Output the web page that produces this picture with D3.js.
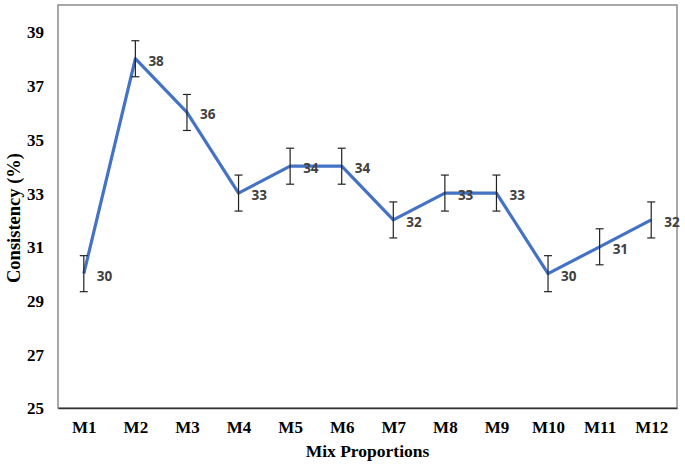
<!DOCTYPE html>
<html>
<head>
<meta charset="utf-8">
<script src="https://cdn.jsdelivr.net/npm/d3@7"></script>
<style>
  body { margin: 0; background: #fff; }
  svg text.serif, svg .tick text { font-family: "Liberation Serif", "DejaVu Serif", "Times New Roman", serif; font-weight: bold; }
  .tick text { font-size: 17px; fill: #000; }
</style>
</head>
<body>
<div id="chart"></div>
<script>
var mixes = ['M1', 'M2', 'M3', 'M4', 'M5', 'M6', 'M7', 'M8', 'M9', 'M10', 'M11', 'M12'];
var consistency = [30, 38, 36, 33, 34, 34, 32, 33, 33, 30, 31, 32];
var errors = [0.67, 0.67, 0.67, 0.67, 0.67, 0.67, 0.67, 0.67, 0.67, 0.67, 0.67, 0.67];
var yTicks = [25, 27, 29, 31, 33, 35, 37, 39];

var width = 685, height = 467;
var margin = { left: 58, right: 8, top: 5, bottom: 59 };

var svg = d3.select('#chart').append('svg')
  .attr('width', width)
  .attr('height', height);

var x = d3.scalePoint()
  .domain(mixes)
  .range([margin.left, width - margin.right])
  .padding(0.5);

var y = d3.scaleLinear()
  .domain([25, 40])
  .range([height - margin.bottom, margin.top]);

// plot frame
svg.append('rect')
  .attr('x', margin.left)
  .attr('y', margin.top)
  .attr('width', width - margin.left - margin.right)
  .attr('height', height - margin.top - margin.bottom)
  .attr('fill', 'none')
  .attr('stroke', '#8c8c8c')
  .attr('stroke-width', 1.5);

var yAxis = svg.append('g')
  .attr('transform', 'translate(' + margin.left + ',0)')
  .call(d3.axisLeft(y).tickValues(yTicks).tickSize(0).tickPadding(14));
yAxis.select('.domain').remove();
yAxis.selectAll('.tick text').attr('dy', '0.35em');

var xAxis = svg.append('g')
  .attr('transform', 'translate(0,' + (height - margin.bottom) + ')')
  .call(d3.axisBottom(x).tickSize(0).tickPadding(13));
xAxis.select('.domain').attr('stroke', '#333').attr('stroke-width', 1.5);
svg.selectAll('g').attr('font-family', null);

var data = mixes.map(function(m, i) {
  return { mix: m, value: consistency[i], err: errors[i] };
});

var line = d3.line()
  .x(function(d) { return x(d.mix); })
  .y(function(d) { return y(d.value); });

svg.append('path')
  .datum(data)
  .attr('d', line)
  .attr('fill', 'none')
  .attr('stroke', '#4472C4')
  .attr('stroke-width', 3.2)
  .attr('stroke-linejoin', 'round');

// error bars
var bars = svg.append('g').selectAll('g').data(data).enter().append('g')
  .attr('stroke', '#222')
  .attr('stroke-width', 1.2);
bars.append('line')
  .attr('x1', function(d) { return x(d.mix); })
  .attr('x2', function(d) { return x(d.mix); })
  .attr('y1', function(d) { return y(d.value + d.err); })
  .attr('y2', function(d) { return y(d.value - d.err); });
bars.append('line')
  .attr('x1', function(d) { return x(d.mix) - 4; })
  .attr('x2', function(d) { return x(d.mix) + 4; })
  .attr('y1', function(d) { return y(d.value + d.err); })
  .attr('y2', function(d) { return y(d.value + d.err); });
bars.append('line')
  .attr('x1', function(d) { return x(d.mix) - 4; })
  .attr('x2', function(d) { return x(d.mix) + 4; })
  .attr('y1', function(d) { return y(d.value - d.err); })
  .attr('y2', function(d) { return y(d.value - d.err); });

// data labels
svg.append('g').selectAll('text').data(data).enter().append('text')
  .attr('x', function(d) { return x(d.mix) + 13; })
  .attr('y', function(d) { return y(d.value) + 7; })
  .attr('font-family', '"Open Sans", "DejaVu Sans", sans-serif')
  .attr('font-weight', 'bold')
  .attr('font-size', 13.5)
  .attr('fill', '#404040')
  .text(function(d) { return d.value; });

svg.append('text')
  .attr('class', 'serif')
  .attr('transform', 'translate(20,218) rotate(-90)')
  .attr('text-anchor', 'middle')
  .attr('font-size', 18.5)
  .text('Consistency (%)');

svg.append('text')
  .attr('class', 'serif')
  .attr('x', (margin.left + width - margin.right) / 2)
  .attr('y', 457)
  .attr('text-anchor', 'middle')
  .attr('font-size', 17.5)
  .text('Mix Proportions');
</script>
</body>
</html>
